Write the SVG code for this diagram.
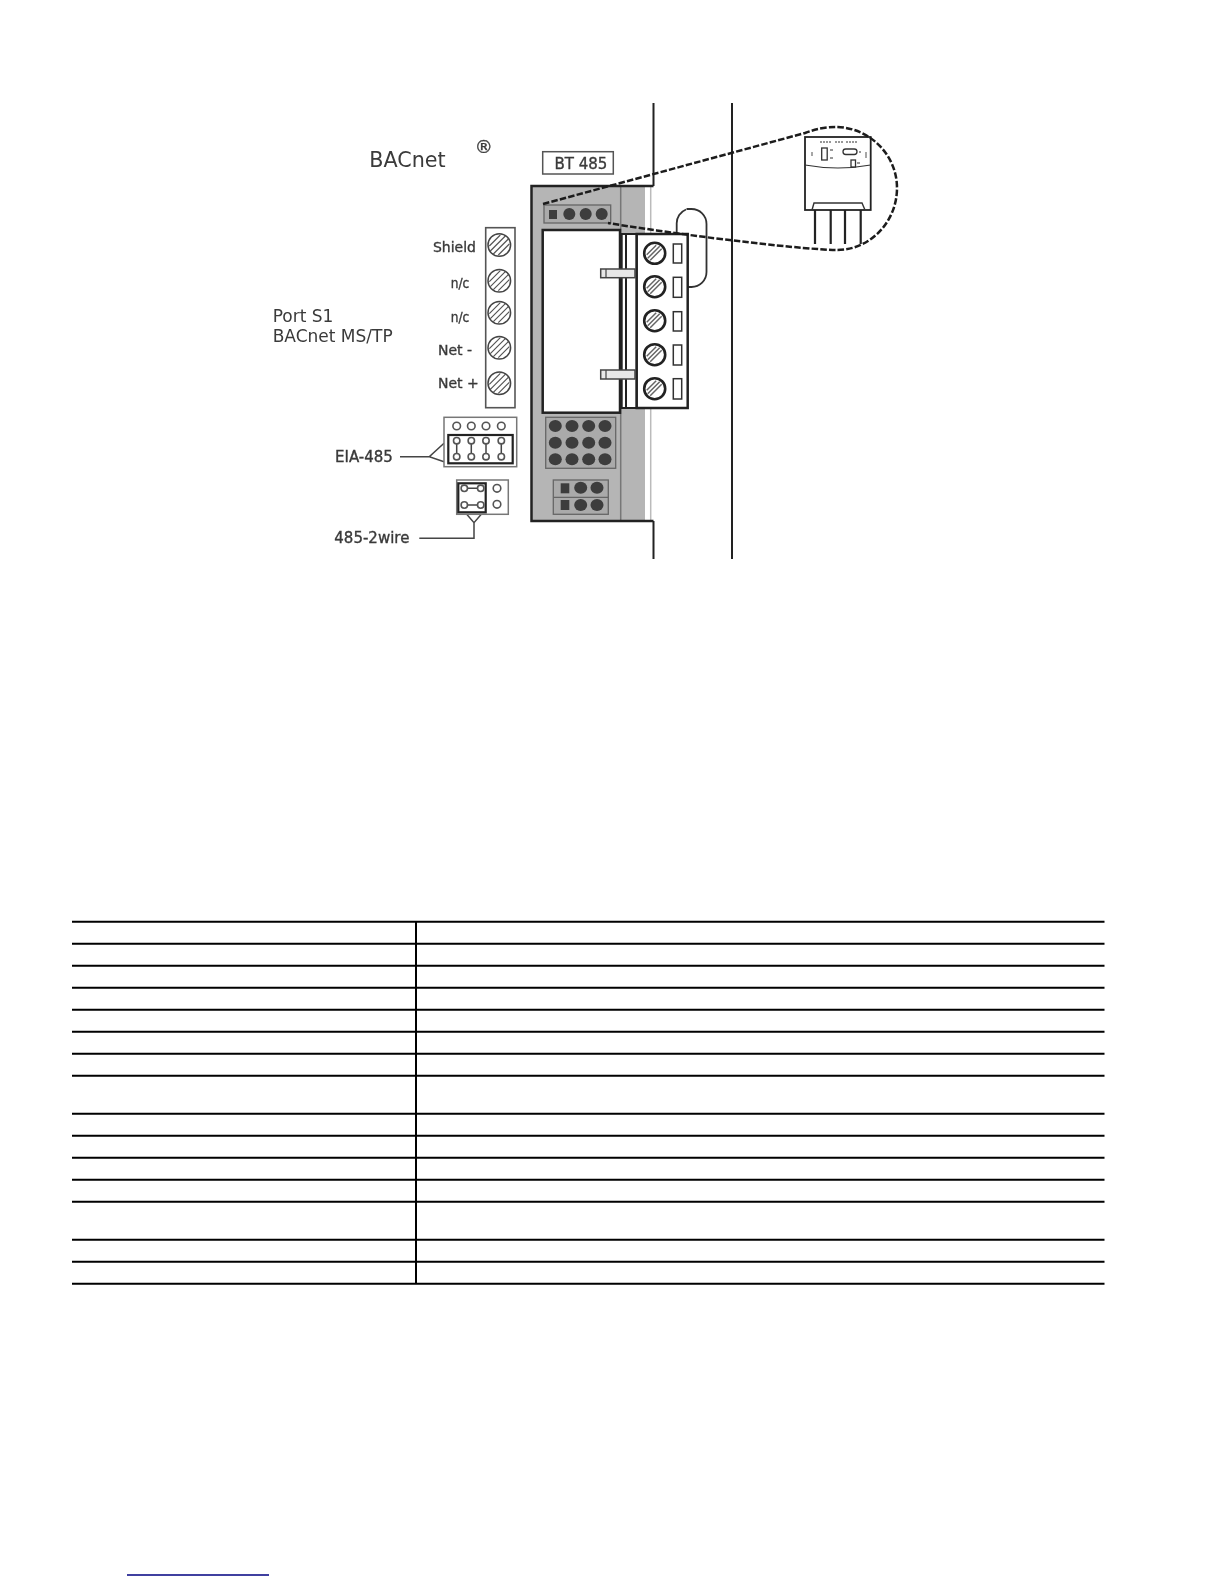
<svg xmlns="http://www.w3.org/2000/svg" xmlns:xlink="http://www.w3.org/1999/xlink" width="1224" height="1584" viewBox="0 0 1224 1584">
<style>
.t{font-family:"DejaVu Sans","Liberation Sans",sans-serif;fill:#3a3a3a}
.b{stroke:#3a3a3a;stroke-width:.35}
.k{fill:none;stroke:#222;stroke-width:2.5}
.thin{fill:none;stroke:#444;stroke-width:1.4}
.g{fill:none;stroke:#666;stroke-width:1.6}
.dot{fill:#3c3c3c}
.hole{fill:#fff;stroke:#555;stroke-width:1.6}
.rule{stroke:#000;stroke-width:2}
</style>
<defs>
<filter id="soft" x="-5%" y="-5%" width="110%" height="110%"><feGaussianBlur stdDeviation="0.45"/></filter>
<g id="screwA"><circle r="10.5" fill="#fff" stroke="#222" stroke-width="2.6"/><path d="M-7 5 5 -7M-4.500 7 7 -4.500M-8 1.500 1.500 -8" stroke="#666" stroke-width="1.5" fill="none"/></g>
<g id="screwB"><circle r="11.300" fill="#fff" stroke="#444" stroke-width="1.500"/><path d="M-9 6 6 -9M-6 9 9 -6M-10 1 1 -10M-1 10 10 -1" stroke="#555" stroke-width="1.200" fill="none"/></g>
</defs>
<rect width="1224" height="1584" fill="#fff"/>
<g id="drawing" filter="url(#soft)">
<g id="rails"><path d="M653.500 103V186M653.500 521V559M732 103V559" fill="none" stroke="#222" stroke-width="2"/></g>
<g id="oval"><path d="M686 209.500a15 15 0 0 0-9.300 14V240M686.500 209h5a15 15 0 0 1 15 15v48a15 15 0 0 1-15 15h-5" fill="none" stroke="#333" stroke-width="1.800"/></g>
<g id="device">
<rect x="531.500" y="186" width="122" height="335" fill="#fff"/>
<rect x="531.500" y="186" width="113.500" height="335" fill="#b5b5b5"/>
<path d="M620.700 186V521" stroke="#777" stroke-width="1.500"/>
<path d="M650.700 186V521" stroke="#bbb" stroke-width="1.500"/>
<path d="M653.500 186H531.500V521H653.500" class="k"/>
<g id="top-connector">
<rect x="544" y="205" width="66.700" height="18" fill="#aaa" stroke="#666" stroke-width="1.300"/>
<rect x="549" y="210" width="8" height="9" class="dot"/>
<circle cx="569.300" cy="214" r="6" class="dot"/><circle cx="585.700" cy="214" r="6" class="dot"/><circle cx="601.700" cy="214" r="6" class="dot"/>
</g>
<rect id="white-block" x="542.700" y="230" width="77.300" height="182.700" fill="#fff" stroke="#222" stroke-width="2.500"/>
<g id="grid">
<rect x="545.700" y="417.300" width="70" height="51" fill="#aaa" stroke="#666" stroke-width="1.300"/>
<g class="dot">
<ellipse cx="555.300" cy="426" rx="6.500" ry="6"/><ellipse cx="572" cy="426" rx="6.500" ry="6"/><ellipse cx="588.700" cy="426" rx="6.500" ry="6"/><ellipse cx="605" cy="426" rx="6.500" ry="6"/>
<ellipse cx="555.300" cy="442.700" rx="6.500" ry="6"/><ellipse cx="572" cy="442.700" rx="6.500" ry="6"/><ellipse cx="588.700" cy="442.700" rx="6.500" ry="6"/><ellipse cx="605" cy="442.700" rx="6.500" ry="6"/>
<ellipse cx="555.300" cy="459.300" rx="6.500" ry="6"/><ellipse cx="572" cy="459.300" rx="6.500" ry="6"/><ellipse cx="588.700" cy="459.300" rx="6.500" ry="6"/><ellipse cx="605" cy="459.300" rx="6.500" ry="6"/>
</g></g>
<g id="small-connector">
<rect x="553.300" y="480" width="55" height="34.300" fill="#aaa" stroke="#666" stroke-width="1.300"/>
<path d="M553.300 497.300H608.300" stroke="#666" stroke-width="1.300"/>
<g class="dot"><rect x="560.700" y="483.300" width="8.600" height="10"/><rect x="560.700" y="500" width="8.600" height="10"/>
<ellipse cx="580.700" cy="487.700" rx="6.500" ry="6"/><ellipse cx="597" cy="487.700" rx="6.500" ry="6"/><ellipse cx="580.700" cy="505" rx="6.500" ry="6"/><ellipse cx="597" cy="505" rx="6.500" ry="6"/></g>
</g>
</g>
<g id="terminal">
<rect x="621.700" y="234" width="15" height="174" fill="#fff" stroke="#222" stroke-width="2"/>
<path d="M626 234V408" stroke="#222" stroke-width="2"/>
<rect x="636.700" y="234" width="51" height="174" fill="#fff" stroke="#222" stroke-width="2.500"/>
<use href="#screwA" x="654.700" y="253.300"/><use href="#screwA" x="654.700" y="286.700"/><use href="#screwA" x="654.700" y="320.700"/><use href="#screwA" x="654.700" y="354.700"/><use href="#screwA" x="654.700" y="388.700"/>
<g fill="#fff" stroke="#333" stroke-width="1.500">
<rect x="673.300" y="244" width="8.400" height="19"/><rect x="673.300" y="277.300" width="8.400" height="20"/><rect x="673.300" y="311.700" width="8.400" height="19.300"/><rect x="673.300" y="345" width="8.400" height="20"/><rect x="673.300" y="378.700" width="8.400" height="20.300"/>
</g>
<g fill="#e8e8e8" stroke="#444" stroke-width="1.500">
<rect x="600.700" y="269" width="34.300" height="8.700"/><rect x="600.700" y="370" width="34.300" height="9"/>
</g>
<path d="M606 269V277.700M606 370V379" stroke="#444" stroke-width="1.200"/>
</g>
<g id="module">
<rect x="805" y="137" width="65.700" height="73" fill="#fff" stroke="#222" stroke-width="1.800"/>
<path d="M805 165Q838 171 870.700 165" fill="none" stroke="#333" stroke-width="1.200"/>
<path d="M812 210 814 203H862L865 210" fill="none" stroke="#333" stroke-width="1.400"/>
<path d="M815 210V244M830.700 210V244M845 210V244M860.700 210V244" fill="none" stroke="#222" stroke-width="2.200"/>
<rect x="821.700" y="148" width="5.500" height="12" fill="#fff" stroke="#333" stroke-width="1.300"/>
<rect x="843" y="149" width="14" height="5.500" rx="2.700" fill="#fff" stroke="#333" stroke-width="1.300"/>
<rect x="851" y="160" width="4.500" height="7" fill="#fff" stroke="#333" stroke-width="1.300"/>
<path d="M820 142H831M835 142H843M846 142H857" stroke="#777" stroke-width="1.300" stroke-dasharray="2 1" fill="none"/>
<path d="M812 152V156M830 150H833M830 158H833M859 152H861M866 152V158M857 163H860" stroke="#777" stroke-width="1.300" fill="none"/>
</g>
<g id="connectors">
<path d="M543 204 805 133C818 128 828 127 837 127C870 128 897 155 897 188C897 222 870 250 837 250C810 250 700 238 608 223" fill="none" stroke="#1c1c1c" stroke-width="2.500" stroke-dasharray="6.500 2.200"/>
<path d="M400 456.700H429.300M444 443.300 429.300 456.700 444 461.700" fill="none" stroke="#444" stroke-width="1.500"/>
<path d="M466.700 514.300 474 522.700 481.300 514.300M474 522.700V538.300H419.300" fill="none" stroke="#444" stroke-width="1.500"/>
</g>
<g id="bt485"><rect x="542.700" y="151.700" width="70.600" height="22.300" fill="#fff" stroke="#555" stroke-width="1.500"/><text class="t b" x="581" y="169" font-size="15" text-anchor="middle">BT 485</text></g>
<g id="bacnet-title"><text class="t" x="369.300" y="166.700" font-size="20.700">BACnet</text><text class="t b" x="483.700" y="153" font-size="18" text-anchor="middle">®</text></g>
<g id="port-label"><text class="t" x="272.700" y="322" font-size="17">Port S1</text><text class="t" x="272.700" y="342.300" font-size="17">BACnet MS/TP</text></g>
<g id="strip">
<rect x="485.700" y="227.700" width="29.300" height="180" fill="#fff" stroke="#555" stroke-width="1.600"/>
<use href="#screwB" x="499.300" y="245"/><use href="#screwB" x="499.300" y="280.700"/><use href="#screwB" x="499.300" y="312.700"/><use href="#screwB" x="499.300" y="347.700"/><use href="#screwB" x="499.300" y="383.300"/>
<text class="t b" x="476" y="252.300" font-size="14" text-anchor="end">Shield</text>
<text class="t b" x="469.300" y="287.700" font-size="14" text-anchor="end" textLength="18.600" lengthAdjust="spacingAndGlyphs">n/c</text>
<text class="t b" x="469.300" y="321.700" font-size="14" text-anchor="end" textLength="18.600" lengthAdjust="spacingAndGlyphs">n/c</text>
<text class="t b" x="438" y="355" font-size="14">Net -</text>
<text class="t b" x="438" y="388.300" font-size="14">Net +</text>
</g>
<g id="eia485">
<rect x="444" y="417.300" width="72.700" height="49.400" fill="#fff" stroke="#777" stroke-width="1.500"/>
<rect x="448.300" y="435" width="64.400" height="28.300" fill="none" stroke="#222" stroke-width="2.200"/>
<path d="M456.700 440.700V456.700M471.300 440.700V456.700M486 440.700V456.700M501.300 440.700V456.700" stroke="#444" stroke-width="1.500"/>
<g class="hole">
<circle cx="456.700" cy="426" r="3.800"/><circle cx="471.300" cy="426" r="3.800"/><circle cx="486" cy="426" r="3.800"/><circle cx="501.300" cy="426" r="3.800"/>
<circle cx="456.700" cy="440.700" r="3.200"/><circle cx="471.300" cy="440.700" r="3.200"/><circle cx="486" cy="440.700" r="3.200"/><circle cx="501.300" cy="440.700" r="3.200"/>
<circle cx="456.700" cy="456.700" r="3.200"/><circle cx="471.300" cy="456.700" r="3.200"/><circle cx="486" cy="456.700" r="3.200"/><circle cx="501.300" cy="456.700" r="3.200"/>
</g>
<text class="t b" x="335" y="461.700" font-size="15">EIA-485</text>
</g>
<g id="wire2">
<rect x="456.700" y="480" width="51.600" height="34.300" fill="#fff" stroke="#777" stroke-width="1.500"/>
<rect x="458.300" y="483.300" width="27.400" height="29" fill="none" stroke="#222" stroke-width="2.200"/>
<path d="M464.300 488.300H480.700M464.300 505H480.700" stroke="#444" stroke-width="1.500"/>
<g class="hole">
<circle cx="464.300" cy="488.300" r="3.200"/><circle cx="480.700" cy="488.300" r="3.200"/><circle cx="464.300" cy="505" r="3.200"/><circle cx="480.700" cy="505" r="3.200"/>
<circle cx="497" cy="488.300" r="3.800"/><circle cx="497" cy="504.300" r="3.800"/>
</g>
<text class="t b" x="334.300" y="542.700" font-size="15">485-2wire</text>
</g>
</g>
<g id="table">
<path class="rule" d="M72 921.700H1104.500M72 943.700H1104.500M72 965.700H1104.500M72 987.700H1104.500M72 1009.700H1104.500M72 1031.700H1104.500M72 1053.700H1104.500M72 1075.700H1104.500M72 1113.700H1104.500M72 1135.700H1104.500M72 1157.700H1104.500M72 1179.700H1104.500M72 1201.700H1104.500M72 1239.700H1104.500M72 1261.700H1104.500M72 1283.700H1104.500M416 921.700V1283.700" fill="none"/>
</g>
<path id="footer-link" d="M127 1575H269" stroke="#000080" stroke-width="1.300"/>
</svg>
